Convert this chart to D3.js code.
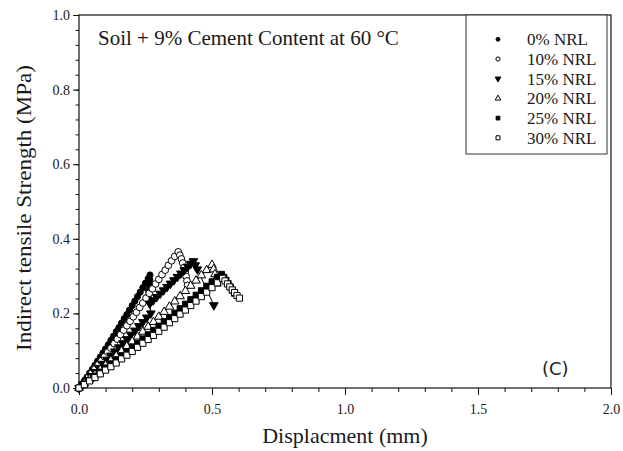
<!DOCTYPE html>
<html>
<head>
<meta charset="utf-8">
<script src="https://cdn.jsdelivr.net/npm/d3@7"></script>
<style>
  body { margin: 0; background: #fff; }
  text { font-family: "Liberation Serif", "Times New Roman", serif; fill: #1a1a1a; }
</style>
</head>
<body>
<div id="chart"></div>
<script>
// series names, in legend order
var seriesNames = ["0% NRL", "10% NRL", "15% NRL", "20% NRL", "25% NRL", "30% NRL"]

// displacement (mm), stress (MPa)
var nrl0 = [[0,0],[0.01,0.009],[0.02,0.019],[0.03,0.029],[0.04,0.040],[0.05,0.050],[0.06,0.061],[0.07,0.072],
  [0.08,0.083],[0.09,0.094],[0.10,0.105],[0.11,0.116],[0.12,0.128],[0.13,0.139],[0.14,0.151],[0.15,0.162],
  [0.16,0.174],[0.17,0.186],[0.18,0.197],[0.19,0.209],[0.20,0.221],[0.21,0.233],[0.22,0.245],[0.23,0.257],
  [0.24,0.269],[0.25,0.281],[0.26,0.293],[0.267,0.303],[0.266,0.290],[0.264,0.275],[0.262,0.260],[0.260,0.245],[0.259,0.235]]

var nrl10 = [[0,0],[0.012,0.009],[0.024,0.019],[0.036,0.029],[0.048,0.040],[0.060,0.051],[0.072,0.062],[0.084,0.073],
  [0.096,0.084],[0.108,0.096],[0.120,0.107],[0.132,0.119],[0.144,0.131],[0.156,0.143],[0.168,0.155],[0.180,0.167],
  [0.192,0.179],[0.204,0.191],[0.216,0.203],[0.228,0.216],[0.240,0.228],[0.252,0.241],[0.264,0.254],[0.276,0.266],
  [0.288,0.279],[0.300,0.291],[0.312,0.304],[0.324,0.316],[0.336,0.329],[0.348,0.341],[0.360,0.353],[0.373,0.365],
  [0.379,0.356],[0.385,0.346],[0.390,0.335],[0.395,0.323],[0.399,0.311],[0.403,0.299],[0.406,0.287],[0.408,0.275]]

var nrl15 = [[0,0],[0.015,0.010],[0.030,0.021],[0.045,0.032],[0.060,0.043],[0.075,0.054],[0.090,0.065],[0.105,0.076],
  [0.120,0.087],[0.135,0.098],[0.150,0.109],[0.165,0.120],[0.180,0.131],[0.195,0.143],[0.210,0.154],[0.225,0.166],
  [0.240,0.177],[0.255,0.189],[0.270,0.200],[0.266,0.226],[0.279,0.235],[0.292,0.244],[0.305,0.253],[0.318,0.262],
  [0.331,0.271],[0.344,0.280],[0.357,0.289],[0.370,0.298],[0.383,0.307],[0.396,0.316],[0.409,0.325],[0.420,0.333],
  [0.430,0.340],[0.437,0.329],[0.445,0.318],[0.507,0.222]]

var nrl20 = [[0,0],[0.02,0.012],[0.04,0.024],[0.06,0.036],[0.08,0.049],[0.10,0.061],[0.12,0.074],[0.14,0.086],
  [0.16,0.099],[0.18,0.112],[0.20,0.125],[0.22,0.138],[0.24,0.151],[0.26,0.164],[0.28,0.177],[0.30,0.191],
  [0.32,0.204],[0.34,0.218],[0.36,0.232],[0.38,0.246],[0.40,0.260],[0.42,0.274],[0.44,0.288],[0.46,0.302],
  [0.48,0.316],[0.50,0.330],[0.506,0.318],[0.511,0.305],[0.515,0.292],[0.519,0.280]]

var nrl25 = [[0,0],[0.02,0.011],[0.04,0.021],[0.06,0.032],[0.08,0.043],[0.10,0.054],[0.12,0.065],[0.14,0.076],
  [0.16,0.087],[0.18,0.098],[0.20,0.109],[0.22,0.120],[0.24,0.132],[0.26,0.143],[0.28,0.155],[0.30,0.166],
  [0.32,0.178],[0.34,0.189],[0.36,0.201],[0.38,0.213],[0.40,0.225],[0.42,0.237],[0.44,0.249],[0.46,0.261],
  [0.48,0.273],[0.50,0.285],[0.52,0.297],[0.536,0.305],[0.545,0.297],[0.553,0.289],[0.561,0.280],[0.569,0.271],
  [0.577,0.262],[0.584,0.254]]

var nrl30 = [[0,0],[0.02,0.009],[0.04,0.019],[0.06,0.028],[0.08,0.038],[0.10,0.048],[0.12,0.057],[0.14,0.067],
  [0.16,0.078],[0.18,0.088],[0.20,0.098],[0.22,0.109],[0.24,0.120],[0.26,0.130],[0.28,0.141],[0.30,0.152],
  [0.32,0.163],[0.34,0.175],[0.36,0.186],[0.38,0.198],[0.40,0.209],[0.42,0.221],[0.44,0.233],[0.46,0.245],
  [0.48,0.257],[0.50,0.269],[0.52,0.282],[0.54,0.294],[0.549,0.287],[0.558,0.279],[0.567,0.271],[0.576,0.263],
  [0.585,0.256],[0.594,0.248],[0.603,0.241]]

var xTicks = [0, 0.5, 1.0, 1.5, 2.0]
var yTicks = [0, 0.2, 0.4, 0.6, 0.8, 1.0]

var series = [nrl0, nrl10, nrl15, nrl20, nrl25, nrl30]

var margin = {top: 15, right: 12, bottom: 63, left: 79},
    width = 623 - margin.left - margin.right,
    height = 451 - margin.top - margin.bottom;

var svg = d3.select("#chart")
  .append("svg")
    .attr("width", 623)
    .attr("height", 451)
  .append("g")
    .attr("transform", "translate(" + margin.left + "," + margin.top + ")");

var x = d3.scaleLinear().domain([0, 2]).range([0, width])
var y = d3.scaleLinear().domain([0, 1]).range([height, 0])

// minor ticks
svg.append("g")
  .attr("transform", "translate(0," + height + ")")
  .call(d3.axisBottom(x).tickValues(d3.range(0, 2.01, 0.1)).tickSize(4).tickFormat(""))
svg.append("g")
  .call(d3.axisLeft(y).tickValues(d3.range(0, 1.001, 0.04)).tickSize(3.5).tickFormat(""))

// major ticks
svg.append("g")
  .attr("transform", "translate(0," + height + ")")
  .call(d3.axisBottom(x).tickValues(xTicks).tickSize(7).tickPadding(9).tickFormat(d3.format(".1f")))
svg.append("g")
  .call(d3.axisLeft(y).tickValues(yTicks).tickSize(6).tickPadding(3).tickFormat(d3.format(".1f")))

svg.selectAll(".domain").remove()
svg.selectAll(".tick line").attr("stroke", "#111")
svg.selectAll(".tick text")
  .style("font-family", "Liberation Serif")
  .style("font-size", "14px")
  .attr("fill", "#1a1a1a")

// frame
svg.append("rect")
  .attr("width", width)
  .attr("height", height)
  .attr("fill", "none")
  .attr("stroke", "#111")
  .attr("stroke-width", 1.2)

var shapes = [
  {type: d3.symbolCircle, size: 30, fill: "#000", rot: 0},
  {type: d3.symbolCircle, size: 36, fill: "#fff", rot: 0},
  {type: d3.symbolTriangle, size: 32, fill: "#000", rot: 180},
  {type: d3.symbolTriangle, size: 32, fill: "#fff", rot: 0},
  {type: d3.symbolSquare, size: 34, fill: "#000", rot: 0},
  {type: d3.symbolSquare, size: 38, fill: "#fff", rot: 0}
]

var line = d3.line()
  .x(function(d) { return x(d[0]) })
  .y(function(d) { return y(d[1]) })

series.forEach(function(data, i) {
  var sh = shapes[i]
  svg.append("path")
    .datum(data)
    .attr("d", line)
    .attr("fill", "none")
    .attr("stroke", "#000")
    .attr("stroke-width", 1)

  svg.selectAll(".pt" + i)
    .data(data)
    .enter()
    .append("path")
      .attr("d", d3.symbol().type(sh.type).size(sh.size))
      .attr("transform", function(d) {
        return "translate(" + x(d[0]) + "," + y(d[1]) + ") rotate(" + sh.rot + ")"
      })
      .attr("fill", sh.fill)
      .attr("stroke", "#000")
      .attr("stroke-width", 1)
})

// annotation
svg.append("text")
  .attr("x", 19)
  .attr("y", 30)
  .style("font-size", "21px")
  .text("Soil + 9% Cement Content at 60 °C")

svg.append("text")
  .attr("x", 463)
  .attr("y", 360)
  .style("font-family", "DejaVu Sans")
  .style("font-size", "18px")
  .attr("fill", "#222")
  .style("fill", "#222")
  .text("(C)")

// legend
var legend = svg.append("g")
  .attr("transform", "translate(" + (466 - margin.left) + ",0)")

legend.append("rect")
  .attr("width", 141)
  .attr("height", 139)
  .attr("fill", "#fff")
  .attr("stroke", "#333")
  .attr("stroke-width", 1)

var lshapes = [12, 14, 14, 14, 14, 16]

seriesNames.forEach(function(name, i) {
  var cy = 24.3 + i * 19.7
  var sh = shapes[i]
  legend.append("path")
    .attr("d", d3.symbol().type(sh.type).size(lshapes[i]))
    .attr("transform", "translate(32," + cy + ") rotate(" + sh.rot + ")")
    .attr("fill", sh.fill)
    .attr("stroke", "#000")
    .attr("stroke-width", 1)
  legend.append("text")
    .attr("x", 61)
    .attr("y", cy + 6)
    .style("font-size", "17px")
    .text(name)
})

// axis titles
svg.append("text")
  .attr("x", width / 2)
  .attr("y", height + 55)
  .attr("text-anchor", "middle")
  .style("font-size", "22px")
  .text("Displacment (mm)")

svg.append("text")
  .attr("transform", "translate(" + (31 - margin.left) + "," + (208 - margin.top) + ") rotate(-90)")
  .attr("text-anchor", "middle")
  .attr("textLength", 286)
  .attr("lengthAdjust", "spacingAndGlyphs")
  .style("font-size", "22px")
  .text("Indirect tensile Strength (MPa)")
</script>
</body>
</html>
